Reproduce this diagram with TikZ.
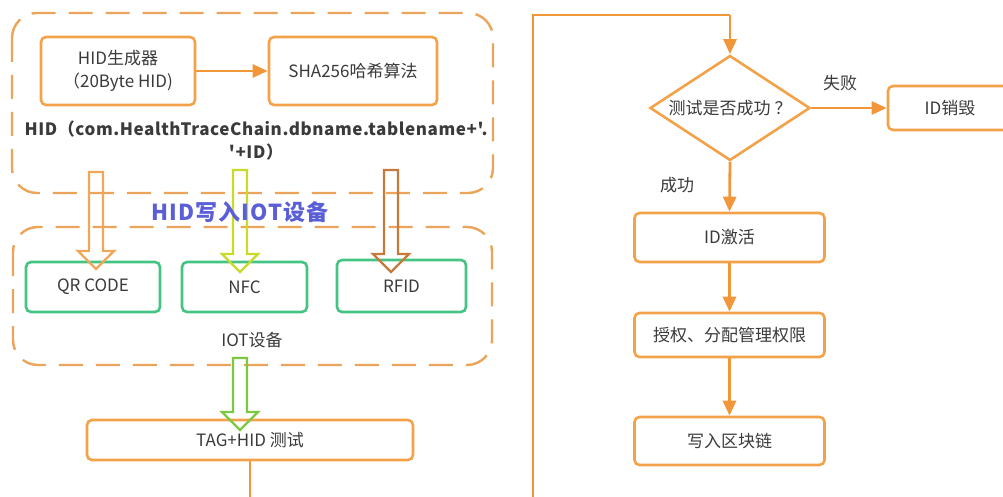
\documentclass[tikz,border=0pt]{standalone}
\usepackage{fontspec}
\setmainfont{Noto Sans CJK SC}
\newfontfamily\hidfont{Noto Sans CJK SC}[LetterSpace=3.5]
\newfontfamily\titlefont{Noto Sans CJK SC}[LetterSpace=5]
\usetikzlibrary{shapes.geometric,arrows.meta}
\definecolor{boxorange}{HTML}{F3A24A}
\definecolor{lineorange}{HTML}{F2963A}
\definecolor{grouporange}{HTML}{EBA45A}
\definecolor{boxgreen}{HTML}{45C383}
\definecolor{arrorange}{HTML}{F2A65A}
\definecolor{arryellow}{HTML}{C8DA2A}
\definecolor{arrbrown}{HTML}{C67A3C}
\definecolor{arrgreen}{HTML}{7CC843}
\definecolor{txt}{HTML}{3A3A3A}
\definecolor{titleblue}{HTML}{5A5FD8}
\begin{document}
\begin{tikzpicture}[x=1pt,y=-1pt,
    every node/.style={font=\fontsize{17}{23}\selectfont,text=txt},
    obox/.style={draw=boxorange,line width=2.6pt,rounded corners=5pt,inner sep=0pt},
    gbox/.style={draw=boxgreen,line width=2.6pt,rounded corners=5pt,inner sep=0pt},
    group/.style={draw=grouporange,line width=2.4pt,dash pattern=on 24pt off 13pt,rounded corners=25pt},
    hollow/.style={line width=2.4pt,line join=miter},
    flow/.style={draw=lineorange,line width=2.8pt,-{Triangle[length=15pt,width=13pt]}},
    link/.style={draw=lineorange,line width=2.8pt}]

\useasboundingbox (0,0) rectangle (1003,497);
\clip (0,0) rectangle (1003,497);

% dashed groups
\draw[group] (12,13) rectangle (493,193);
\draw[group] (13,227) rectangle (492,365);

% left part
\node[obox,minimum width=154pt,minimum height=68pt,align=center] (gen) at (118,71) {HID生成器\\（20Byte HID)};
\node[obox,minimum width=168pt,minimum height=68pt] (sha) at (353,71) {SHA256哈希算法};
\draw[flow] (gen) -- (sha);
\node[align=center,font=\hidfont\fontsize{17}{23}\selectfont\bfseries] (hidfmt) at (256,141) {HID（com.HealthTraceChain.dbname.tablename+'.\\'+ID）};

\node[gbox,minimum width=134pt,minimum height=50pt] (qr) at (93,287) {QR CODE};
\node[gbox,minimum width=125pt,minimum height=50pt] (nfc) at (244.5,287) {NFC};
\node[gbox,minimum width=129pt,minimum height=52pt] (rfid) at (401.5,286) {RFID};
\node (iot) at (252,340) {IOT设备};

\node[obox,minimum width=326pt,minimum height=40pt] (tag) at (250,440) {TAG+HID 测试};

% hollow arrows
\foreach \x/\ytop/\ytip/\col in {96/172/269/arrorange,240/170/272/arryellow,391/170/272/arrbrown,240/358/430/arrgreen}
    \draw[hollow,draw=\col] (\x-7,\ytop) -- (\x+7,\ytop) -- (\x+7,\ytip-18) -- (\x+18,\ytip-18) -- (\x,\ytip) -- (\x-18,\ytip-18) -- (\x-7,\ytip-18) -- cycle;

\node[font=\titlefont\fontsize{22}{24}\selectfont\bfseries,text=titleblue] (write) at (240,212) {HID写入IOT设备};

% right part
\node[diamond,aspect=1.52,draw=boxorange,line width=2.6pt,inner sep=0pt,minimum width=160pt,minimum height=105pt] (test) at (730,108) {测试是否成功\hspace{4pt}？};
\node[obox,minimum width=172pt,minimum height=44pt] (kill) at (974,108) {\hspace*{-48pt}ID销毁};
\node[obox,minimum width=190pt,minimum height=49pt] (act) at (729.5,237.5) {ID激活};
\node[obox,minimum width=190pt,minimum height=44pt] (auth) at (729.5,335) {授权、分配管理权限};
\node[obox,minimum width=190pt,minimum height=48pt] (chain) at (729.5,441) {写入区块链};
\node (fail) at (840,83) {失败};
\node (ok) at (677,185) {成功};

\draw[link] (tag.south) -- (tag.south |- 0,520) -- (533,520) -- (533,15) -- (730,15);
\draw[flow] (730,15) -- (test.north);
\draw[flow] (test.east) -- (kill.west);
\draw[flow] (test.south) -- (act.north);
\draw[flow] (act) -- (auth);
\draw[flow] (auth) -- (chain);

\end{tikzpicture}
\end{document}
